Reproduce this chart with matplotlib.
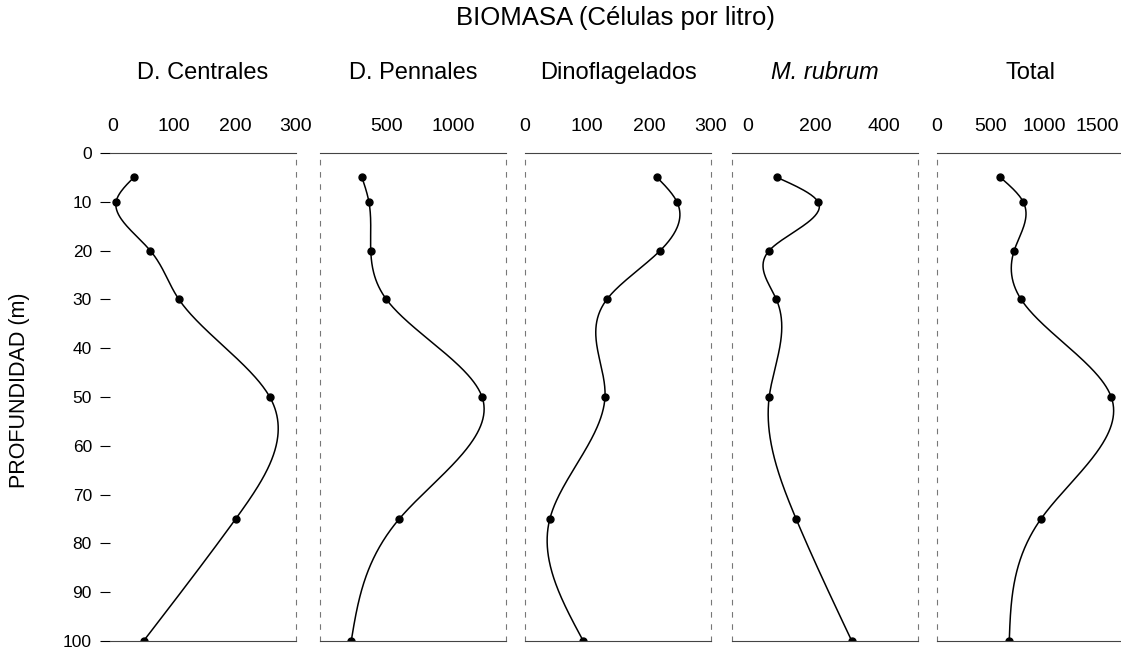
import numpy as np
import matplotlib.pyplot as plt

plt.rcParams['font.family'] = ['Liberation Sans', 'DejaVu Sans']

# Datos
profundidad = [5, 10, 20, 30, 50, 75, 100]
centrales = [34, 5, 61, 108, 257, 201, 50]
pennales = [316, 368, 382, 500, 1220, 596, 235]
dinoflagelados = [213, 245, 218, 132, 129, 40, 94]
rubrum = [87, 207, 64, 85, 64, 143, 306]
total = [593, 806, 722, 787, 1630, 972, 676]

series = [centrales, pennales, dinoflagelados, rubrum, total]
titulos = ['D. Centrales', 'D. Pennales', 'Dinoflagelados', 'M. rubrum', 'Total']
limites = [(-5, 300), (0, 1400), (0, 300), (-45, 500), (0, 1740)]
marcas = [[0, 100, 200, 300], [500, 1000], [0, 100, 200, 300],
          [0, 200, 400], [0, 500, 1000, 1500]]
y_ticks = list(range(0, 101, 10))


def spline_natural(t, v, tt):
    # spline cubico natural x(profundidad)
    t = np.asarray(t, float)
    v = np.asarray(v, float)
    n = len(t)
    h = np.diff(t)
    A = np.zeros((n, n))
    b = np.zeros(n)
    A[0, 0] = A[-1, -1] = 1
    for i in range(1, n - 1):
        A[i, i - 1] = h[i - 1]
        A[i, i] = 2 * (h[i - 1] + h[i])
        A[i, i + 1] = h[i]
        b[i] = 6 * ((v[i + 1] - v[i]) / h[i] - (v[i] - v[i - 1]) / h[i - 1])
    M = np.linalg.solve(A, b)
    out = np.empty_like(tt)
    for k, x in enumerate(tt):
        i = min(np.searchsorted(t, x) - 1, n - 2)
        i = max(i, 0)
        a = t[i + 1] - x
        c = x - t[i]
        out[k] = (M[i] * a ** 3 + M[i + 1] * c ** 3) / (6 * h[i]) \
            + (v[i] / h[i] - M[i] * h[i] / 6) * a \
            + (v[i + 1] / h[i] - M[i + 1] * h[i] / 6) * c
    return out


W, H = 1121, 650
fig = plt.figure(figsize=(W / 100, H / 100), dpi=100)
lefts = [110, 320, 525, 732, 937]
ancho = 186
y_top, y_bot = 153, 641

tt = np.linspace(5, 100, 400)
for k, (vals, tit) in enumerate(zip(series, titulos)):
    ax = fig.add_axes([lefts[k] / W, (H - y_bot) / H, ancho / W, (y_bot - y_top) / H])
    ax.plot(spline_natural(profundidad, vals, tt), tt, color='black', lw=1.1)
    ax.plot(vals, profundidad, 'o', color='black', ms=5)
    ax.set_xlim(*limites[k])
    ax.set_ylim(100, 0)
    ax.xaxis.tick_top()
    ax.set_xticks(marcas[k])
    ax.tick_params(axis='x', length=0, pad=13, labelsize=14)
    estilo = 'italic' if tit == 'M. rubrum' else 'normal'
    ax.set_title(tit, fontsize=17, pad=53, style=estilo)
    for s in ['top', 'bottom']:
        ax.spines[s].set_linewidth(0.8)
        ax.spines[s].set_color('#444444')
    for s in ['left', 'right']:
        ax.spines[s].set_linewidth(0.8)
        ax.spines[s].set_color('#777777')
        ax.spines[s].set_linestyle((0, (4, 7)))
    if k == 0:
        ax.set_yticks(y_ticks)
        ax.tick_params(axis='y', length=7, width=0.8, pad=6, labelsize=12.5)
        ax.spines['left'].set_visible(False)
    else:
        ax.set_yticks([])

fig.text(615 / W, 1 - 18 / H, 'BIOMASA (Células por litro)', ha='center', va='center',
         fontsize=18.5)
fig.text(20 / W, 1 - 390 / H, 'PROFUNDIDAD (m)', ha='center', va='center',
         rotation=90, fontsize=15.5)

fig.savefig('out.png', dpi=100)
